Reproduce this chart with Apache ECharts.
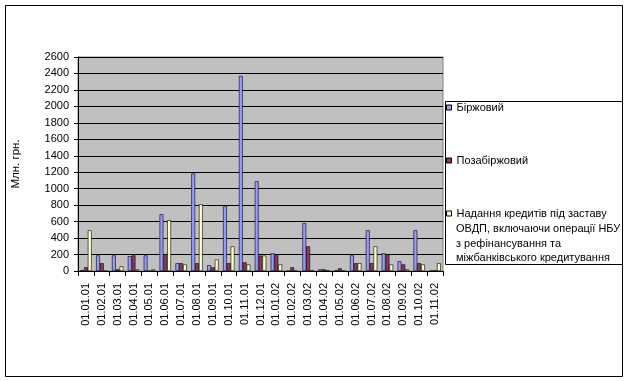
<!DOCTYPE html>
<html><head><meta charset="utf-8">
<script src="https://cdn.jsdelivr.net/npm/echarts@6/dist/echarts.min.js"></script>
<style>html,body{margin:0;padding:0;background:#fff}#c{width:628px;height:381px}</style>
</head><body><div id="c"></div>
<script>
const categories = ['01.01.01','01.02.01','01.03.01','01.04.01','01.05.01','01.06.01','01.07.01','01.08.01','01.09.01','01.10.01','01.11.01','01.12.01','01.01.02','01.02.02','01.03.02','01.04.02','01.05.02','01.06.02','01.07.02','01.08.02','01.09.02','01.10.02','01.11.02'];
const exchange = [10,190,190,180,190,690,95,1185,70,790,2370,1090,215,0,580,20,8,190,495,215,118,495,0];
const otc = [45,95,20,190,0,205,95,95,45,95,105,187,203,45,300,20,32,95,95,203,80,95,8];
const credits = [495,0,57,20,20,617,80,810,140,300,80,187,80,0,8,8,0,95,300,80,20,80,95];
const seriesNames = ['Біржовий','Позабіржовий','Надання кредитів під заставу\nОВДП, включаючи операції НБУ\nз рефінансування та\nміжбанківського кредитування'];
const yMin = 0, yMax = 2600, yStep = 200;

const font = 'Liberation Sans, Arial, sans-serif';
const chart = echarts.init(document.getElementById('c'));
const barStyle = c => ({color: c, borderColor: '#000', borderWidth: 0.6});
const legendText = {fontFamily: font, fontSize: 11, color: '#000'};
const legendBase = {orient:'vertical', left: 446, padding: 0, itemWidth: 5, itemHeight: 5, icon: 'rect',
  itemStyle: {borderColor:'#000', borderWidth: 1}, textStyle: legendText,
  formatter: n => n.split('\n')[0]};
const contLines = seriesNames[2].split('\n').slice(1).join('\n');
chart.setOption({
  animation: false,
  grid: {left: 78, top: 57, right: 185, bottom: 110, show: true, backgroundColor: '#C0C0C0', borderColor: '#808080', borderWidth: 1},
  legend: [
    Object.assign({}, legendBase, {top: 102, data: [seriesNames[0]]}),
    Object.assign({}, legendBase, {top: 155, data: [seriesNames[1]]}),
    Object.assign({}, legendBase, {top: 208, data: [seriesNames[2]]})
  ],
  xAxis: {type: 'category', data: categories,
    axisLine: {lineStyle: {color: '#000', width: 1}},
    axisTick: {show: true, length: 5, alignWithLabel: false, lineStyle: {color: '#000'}},
    axisLabel: {rotate: 90, margin: 12, interval: 0, color: '#000', fontFamily: font, fontSize: 11}
  },
  yAxis: {type: 'value', min: yMin, max: yMax, interval: yStep,
    name: 'Млн. грн.', nameLocation: 'middle', nameGap: 56,
    nameTextStyle: {fontFamily: font, fontSize: 11.5, color: '#000'},
    axisLine: {show: true, lineStyle: {color: '#000', width: 1}},
    axisTick: {show: true, length: 4, lineStyle: {color: '#000'}},
    axisLabel: {margin: 9, color: '#000', fontFamily: font, fontSize: 11, formatter: v => String(v)},
    splitLine: {lineStyle: {color: '#000', width: 1}}
  },
  series: [
    {name: seriesNames[0], type: 'bar', data: exchange, itemStyle: barStyle('#9999FF'), barGap: '0%', barCategoryGap: '28%'},
    {name: seriesNames[1], type: 'bar', data: otc, itemStyle: barStyle('#993366'), barGap: '0%', barCategoryGap: '28%'},
    {name: seriesNames[2], type: 'bar', data: credits, itemStyle: barStyle('#FFFFCC'), barGap: '0%', barCategoryGap: '28%'}
  ],
  graphic: [
    {type: 'rect', shape: {x: 5.5, y: 5.5, width: 617, height: 371}, style: {fill: 'none', stroke: '#000', lineWidth: 1}, silent: true},
    {type: 'rect', shape: {x: 445.5, y: 101.5, width: 177, height: 163}, style: {fill: 'none', stroke: '#000', lineWidth: 1}, silent: true},
    {type: 'text', left: 456, top: 222, silent: true,
      style: {text: contLines, font: '11px ' + font, fill: '#000', lineHeight: 14.5}}
  ]
});
</script></body></html>
